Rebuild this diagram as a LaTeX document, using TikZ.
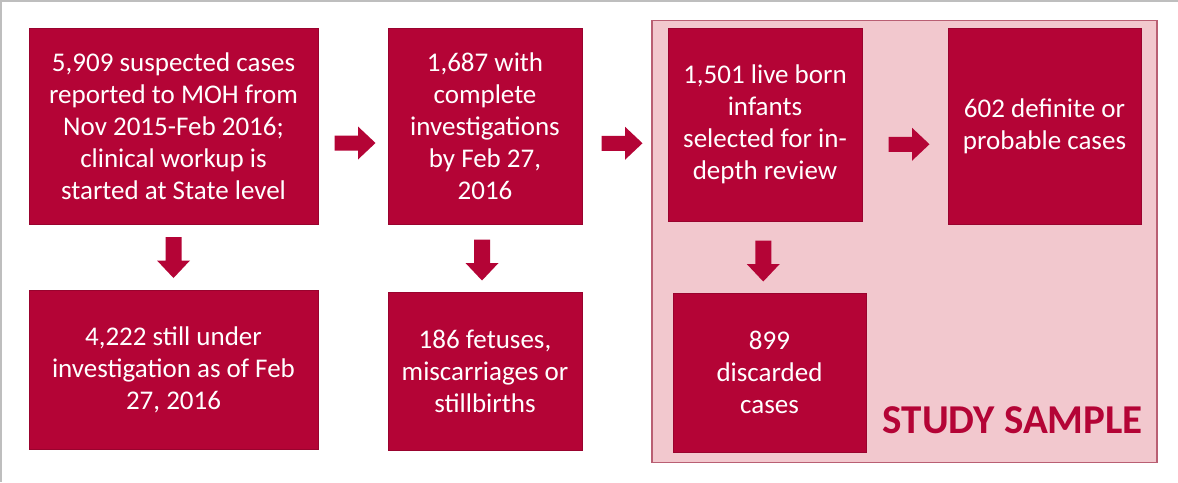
\documentclass[tikz,border=0pt]{standalone}
\usepackage{fontspec}
\setmainfont{Carlito}
\usetikzlibrary{calc}
\definecolor{boxred}{RGB}{180,4,54}
\definecolor{pinkbg}{RGB}{242,200,206}
\definecolor{pinkedge}{RGB}{185,95,115}
\definecolor{framegray}{RGB}{190,190,190}
\tikzset{
  stepbox/.style={rectangle, fill=boxred, draw=boxred!85!black, line width=0.8pt,
    text=white, align=center, inner sep=0pt,
    font=\fontsize{27}{32}\selectfont},
  rarrow/.pic={\fill[boxred] (-20.5,-7.5) -- (3,-7.5) -- (3,-16.5) -- (20.5,0) -- (3,16.5) -- (3,7.5) -- (-20.5,7.5) -- cycle;},
  darrow/.pic={\fill[boxred] (-8,-20.5) -- (-8,3) -- (-16.5,3) -- (0,20.5) -- (16.5,3) -- (8,3) -- (8,-20.5) -- cycle;}
}
\begin{document}
\begin{tikzpicture}[x=1pt,y=-1pt]
\useasboundingbox (0,0) rectangle (1178,482);
\fill[white] (0,0) rectangle (1178,482);
\draw[framegray, line width=2pt] (0,1) -- (1178,1);
\draw[framegray, line width=2pt] (1,0) -- (1,482);

% study sample region
\node (study) [rectangle, fill=pinkbg, draw=pinkedge, line width=1.2pt,
  minimum width=505pt, minimum height=442pt, inner sep=0pt] at (904.5,241.5) {};

% boxes
\node (b1) [stepbox, minimum width=289pt, minimum height=196pt] at (173.5,126)
  {5,909 suspected cases\\reported to MOH from\\Nov 2015-Feb 2016;\\clinical workup is\\started at State level};
\node (b1d) [stepbox, minimum width=289pt, minimum height=159pt] at (173.5,369.5)
  {4,222 still under\\investigation as of Feb\\27, 2016};
\node (b2) [stepbox, minimum width=194pt, minimum height=196pt] at (485,126)
  {1,687 with\\complete\\investigations\\by Feb 27,\\2016};
\node (b2d) [stepbox, minimum width=194pt, minimum height=158pt] at (485,371)
  {186 fetuses,\\miscarriages or\\stillbirths};
\node (b3) [stepbox, minimum width=194pt, minimum height=193pt] at (765,124.5)
  {1,501 live born\\infants\\selected for in-\\depth review};
\node (b4) [stepbox, minimum width=193pt, minimum height=196pt] at (1044.5,126)
  {602 definite or\\probable cases};
\node (b5) [stepbox, minimum width=193pt, minimum height=159pt] at (769.5,372.5)
  {899\\discarded\\cases};

\node (label) [anchor=base east, text=boxred, inner sep=0pt,
  font=\fontsize{41}{48}\selectfont\bfseries] at (1143,433) {STUDY SAMPLE};

% block arrows between boxes
\pic at ($(b1.east)!0.5!(b2.west)+(2,17)$) {rarrow};
\pic at ($(b2.east)!0.5!(b3.west)+(-3,18)$) {rarrow};
\pic at ($(b3.east)!0.5!(b4.west)+(4,19)$) {rarrow};
\pic at ($(b1.south)!0.5!(b1d.north)+(0,0.5)$) {darrow};
\pic at ($(b2.south)!0.5!(b2d.north)+(-3,2)$) {darrow};
\pic at ($(b3.south)!0.5!(b5.north)+(-4,4)$) {darrow};
\end{tikzpicture}
\end{document}
